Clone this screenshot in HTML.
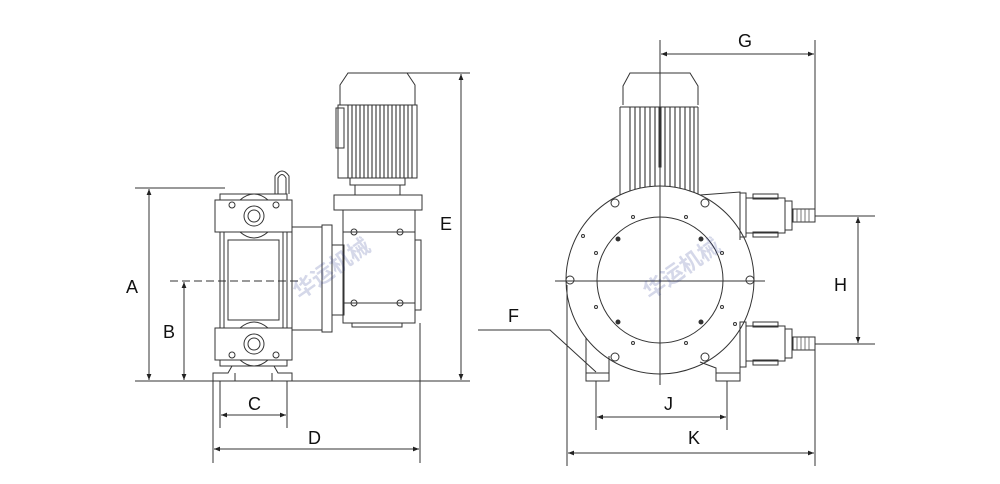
<!DOCTYPE html>
<html><head><meta charset="utf-8"><style>
html,body{margin:0;padding:0;background:#fff;}
svg{display:block;}
text{font-family:"Liberation Sans","Noto Sans CJK SC",sans-serif;}
</style></head><body>
<svg width="1000" height="484" viewBox="0 0 1000 484" xmlns="http://www.w3.org/2000/svg">
<defs>
<marker id="ar" viewBox="0 0 10 10" refX="10" refY="5" markerWidth="9" markerHeight="6" orient="auto-start-reverse" markerUnits="userSpaceOnUse"><path d="M0,1 L10,5 L0,9 z" fill="#222"/></marker>
</defs>
<g fill="none" stroke="#333" stroke-width="1">
<line x1="135" y1="381" x2="470" y2="381"/>
<line x1="135" y1="188" x2="225" y2="188"/>
<line x1="170" y1="281" x2="300" y2="281" stroke-dasharray="8,4"/>
<line x1="400" y1="73" x2="470" y2="73"/>
<line x1="149" y1="189" x2="149" y2="380" marker-start="url(#ar)" marker-end="url(#ar)"/>
<line x1="184" y1="282" x2="184" y2="380" marker-start="url(#ar)" marker-end="url(#ar)"/>
<line x1="461" y1="74" x2="461" y2="380" marker-start="url(#ar)" marker-end="url(#ar)"/>
<line x1="220" y1="381" x2="220" y2="428"/><line x1="287" y1="381" x2="287" y2="428"/>
<line x1="221" y1="415" x2="286" y2="415" marker-start="url(#ar)" marker-end="url(#ar)"/>
<line x1="213" y1="381" x2="213" y2="463"/><line x1="420" y1="323" x2="420" y2="463"/>
<line x1="214" y1="449" x2="419" y2="449" marker-start="url(#ar)" marker-end="url(#ar)"/>
<rect x="215" y="200" width="77" height="32"/>
<rect x="215" y="328" width="77" height="32"/>
<rect x="220" y="194" width="67" height="6"/>
<rect x="220" y="360" width="67" height="6"/>
<rect x="220" y="232" width="67" height="96"/>
<rect x="228" y="240" width="51" height="80"/>
<line x1="224" y1="232" x2="224" y2="328"/><line x1="283" y1="232" x2="283" y2="328"/>
<circle cx="254" cy="216" r="10"/><circle cx="254" cy="216" r="6"/>
<circle cx="254" cy="344" r="10"/><circle cx="254" cy="344" r="6"/>
<path d="M240,200 Q254,188 268,200"/><path d="M240,360 Q254,372 268,360"/>
<path d="M240,232 Q254,244 268,232"/><path d="M240,328 Q254,316 268,328"/>
<circle cx="232" cy="205" r="3"/><circle cx="276" cy="205" r="3"/>
<circle cx="232" cy="355" r="3"/><circle cx="276" cy="355" r="3"/>
<path d="M275,194 V176 Q282,166 289,176 V194"/><path d="M278,194 V178 Q282,171 286,178 V194"/>
<path d="M213,381 V373 H228 L232,366"/><path d="M235,381 V373"/>
<path d="M292,381 V373 H278 L274,366"/><path d="M272,381 V373"/>
<rect x="292" y="227" width="30" height="103"/>
<rect x="322" y="225" width="10" height="107"/>
<rect x="332" y="245" width="12" height="70"/>
<rect x="334" y="195" width="88" height="15"/>
<rect x="343" y="210" width="72" height="113"/>
<line x1="343" y1="232" x2="415" y2="232"/><line x1="343" y1="303" x2="415" y2="303"/>
<rect x="415" y="240" width="6" height="70"/>
<circle cx="354" cy="232" r="3"/><circle cx="400" cy="232" r="3"/>
<circle cx="354" cy="303" r="3"/><circle cx="400" cy="303" r="3"/>
<rect x="352" y="323" width="50" height="4"/>
<rect x="355" y="185" width="45" height="10"/>
<rect x="350" y="178" width="55" height="7"/>
<path d="M340,105 V85 L348,73 H407 L415,85 V105"/>
<rect x="338" y="105" width="79" height="73"/>
<rect x="336" y="108" width="8" height="40"/>
</g>
<g stroke="#333" stroke-width="1.1">
<line x1="348" y1="105" x2="348" y2="178"/><line x1="352" y1="105" x2="352" y2="178"/><line x1="356" y1="105" x2="356" y2="178"/><line x1="360" y1="105" x2="360" y2="178"/><line x1="364" y1="105" x2="364" y2="178"/><line x1="368" y1="105" x2="368" y2="178"/><line x1="372" y1="105" x2="372" y2="178"/><line x1="376" y1="105" x2="376" y2="178"/><line x1="380" y1="105" x2="380" y2="178"/><line x1="384" y1="105" x2="384" y2="178"/><line x1="388" y1="105" x2="388" y2="178"/><line x1="392" y1="105" x2="392" y2="178"/><line x1="396" y1="105" x2="396" y2="178"/><line x1="400" y1="105" x2="400" y2="178"/><line x1="404" y1="105" x2="404" y2="178"/><line x1="408" y1="105" x2="408" y2="178"/><line x1="412" y1="105" x2="412" y2="178"/>
<line x1="630" y1="107" x2="630" y2="192"/><line x1="635" y1="107" x2="635" y2="190"/><line x1="640" y1="107" x2="640" y2="189"/><line x1="645" y1="107" x2="645" y2="188"/><line x1="650" y1="107" x2="650" y2="187"/><line x1="655" y1="107" x2="655" y2="187"/><line x1="665" y1="107" x2="665" y2="187"/><line x1="670" y1="107" x2="670" y2="187"/><line x1="675" y1="107" x2="675" y2="188"/><line x1="680" y1="107" x2="680" y2="189"/><line x1="685" y1="107" x2="685" y2="190"/><line x1="690" y1="107" x2="690" y2="191"/><line x1="694" y1="107" x2="694" y2="192"/>
</g>
<g fill="none" stroke="#333" stroke-width="1">
<path d="M623,105 V86 L630,73 H690 L698,86 V105"/>
<line x1="620" y1="107" x2="698" y2="107"/>
<line x1="620" y1="107" x2="620" y2="197"/><line x1="698" y1="107" x2="698" y2="197"/>
<rect x="659" y="107" width="2" height="60" fill="#333"/>
<circle cx="660" cy="280" r="94" fill="#fff"/>
<circle cx="660" cy="280" r="63"/>
<path d="M700,195 L740,192 V240"/>
<path d="M740,325 V370"/>
<line x1="555" y1="281" x2="765" y2="281"/>
<line x1="660" y1="40" x2="660" y2="385"/>
<circle cx="615" cy="203" r="4"/><circle cx="705" cy="203" r="4"/>
<circle cx="615" cy="357" r="4"/><circle cx="705" cy="357" r="4"/>
<circle cx="570" cy="280" r="4"/><circle cx="750" cy="280" r="4"/>
<circle cx="633" cy="217" r="1.5"/><circle cx="686" cy="217" r="1.5"/>
<circle cx="633" cy="343" r="1.5"/><circle cx="686" cy="343" r="1.5"/>
<circle cx="583" cy="236" r="1.5"/><circle cx="596" cy="253" r="1.5"/>
<circle cx="722" cy="253" r="1.5"/><circle cx="596" cy="307" r="1.5"/><circle cx="722" cy="307" r="1.5"/><circle cx="735" cy="324" r="1.5"/>
<circle cx="618" cy="239" r="2" fill="#333"/><circle cx="701" cy="239" r="2" fill="#333"/>
<circle cx="618" cy="322" r="2" fill="#333"/><circle cx="701" cy="322" r="2" fill="#333"/>
<path d="M586,338 V373 H609 V372"/><rect x="586" y="373" width="23" height="8"/><line x1="609" y1="356" x2="609" y2="373"/>
<path d="M700,362 L716,368 V373 M740,368 V373"/><rect x="716" y="373" width="24" height="8"/>
<rect x="740" y="193" width="6" height="44"/><rect x="746" y="198" width="39" height="35"/><rect x="785" y="201" width="7" height="29"/>
<rect x="753" y="194" width="25" height="5"/><rect x="753" y="232" width="25" height="5"/>
<rect x="793" y="209" width="22" height="13"/>
<rect x="740" y="322" width="6" height="45"/><rect x="746" y="326" width="39" height="35"/><rect x="785" y="329" width="7" height="29"/>
<rect x="753" y="322" width="25" height="5"/><rect x="753" y="360" width="25" height="5"/>
<rect x="793" y="337" width="22" height="13"/>
</g>
<g stroke="#555" stroke-width="0.8">
<line x1="797" y1="209" x2="797" y2="222"/><line x1="801" y1="209" x2="801" y2="222"/><line x1="805" y1="209" x2="805" y2="222"/><line x1="809" y1="209" x2="809" y2="222"/>
<line x1="797" y1="337" x2="797" y2="350"/><line x1="801" y1="337" x2="801" y2="350"/><line x1="805" y1="337" x2="805" y2="350"/><line x1="809" y1="337" x2="809" y2="350"/>
</g>
<g fill="none" stroke="#333" stroke-width="1">
<line x1="815" y1="40" x2="815" y2="212"/>
<line x1="661" y1="54" x2="814" y2="54" marker-start="url(#ar)" marker-end="url(#ar)"/>
<line x1="815" y1="216" x2="875" y2="216"/><line x1="815" y1="344" x2="875" y2="344"/>
<line x1="858" y1="217" x2="858" y2="343" marker-start="url(#ar)" marker-end="url(#ar)"/>
<line x1="596" y1="381" x2="596" y2="430"/><line x1="727" y1="381" x2="727" y2="430"/>
<line x1="597" y1="417" x2="726" y2="417" marker-start="url(#ar)" marker-end="url(#ar)"/>
<line x1="567" y1="285" x2="567" y2="466"/><line x1="815" y1="350" x2="815" y2="466"/>
<line x1="568" y1="453" x2="814" y2="453" marker-start="url(#ar)" marker-end="url(#ar)"/>
<path d="M478,330 H550 L596,372"/>
</g>
<g opacity="0.18" font-weight="bold">
<text x="300" y="300" font-size="22" fill="#1b2b8a" transform="rotate(-35 300 300)">华运机械</text>
<text x="650" y="300" font-size="22" fill="#1b2b8a" transform="rotate(-35 650 300)">华运机械</text>
</g>
<g font-size="18" fill="#111">
<text x="126" y="293">A</text>
<text x="163" y="338">B</text>
<text x="248" y="410">C</text>
<text x="308" y="444">D</text>
<text x="440" y="230">E</text>
<text x="508" y="322">F</text>
<text x="738" y="47">G</text>
<text x="834" y="291">H</text>
<text x="664" y="410">J</text>
<text x="688" y="444">K</text>
</g>
</svg>
</body></html>
